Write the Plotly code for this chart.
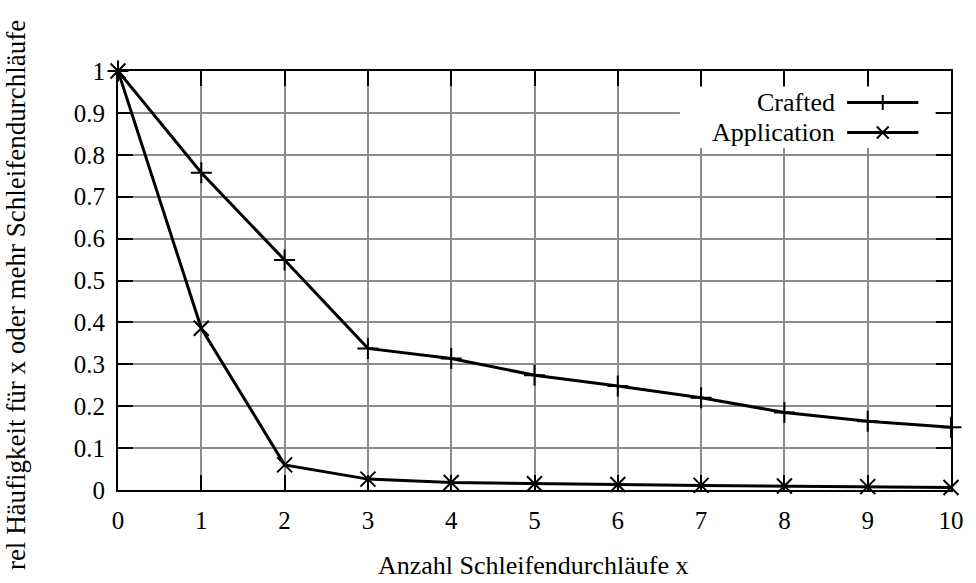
import plotly.graph_objects as go

# Loop-count distribution: share of runs with x or more loop iterations
x_vals = [0, 1, 2, 3, 4, 5, 6, 7, 8, 9, 10]
crafted = [1.0, 0.757, 0.549, 0.338, 0.314, 0.274, 0.248, 0.220, 0.185, 0.164, 0.150]
application = [1.0, 0.386, 0.060, 0.026, 0.018, 0.015, 0.013, 0.011, 0.0095, 0.008, 0.006]
series_names = ["Crafted", "Application"]
x_ticks = list(range(0, 11))
y_ticks = [0, 0.1, 0.2, 0.3, 0.4, 0.5, 0.6, 0.7, 0.8, 0.9, 1]
y_tick_text = ["0", "0.1", "0.2", "0.3", "0.4", "0.5", "0.6", "0.7", "0.8", "0.9", "1"]

FONT = "Liberation Serif"
W, H = 976, 583
L, R, T, B = 118, 16, 71, 93
pw, ph = W - L - R, H - T - B

def px_x(p):
    return (p - L) / pw

def px_y(p):
    return (H - B - p) / ph

fig = go.Figure()

fig.add_trace(go.Scatter(
    x=x_vals, y=crafted, mode="lines+markers", name=series_names[0],
    line=dict(color="black", width=3),
    marker=dict(symbol="cross-thin", size=15, line=dict(color="black", width=2)),
    showlegend=False, cliponaxis=False,
))
fig.add_trace(go.Scatter(
    x=x_vals, y=application, mode="lines+markers", name=series_names[1],
    line=dict(color="black", width=3),
    marker=dict(symbol="x-thin", size=15, line=dict(color="black", width=2)),
    showlegend=False, cliponaxis=False,
))

# Key box: white panel over the grid, label left, line sample with marker right
shapes = [dict(
    type="rect", xref="paper", yref="paper", layer="above",
    x0=px_x(686), x1=px_x(944), y0=px_y(148), y1=px_y(87),
    fillcolor="white", line=dict(width=0),
)]
key_rows_px = [102.5, 132.5]
sample_x0, sample_x1, sample_mid = 855, 927, 891
annotations = []
for i, (name, ypx) in enumerate(zip(series_names, key_rows_px)):
    shapes.append(dict(
        type="line", xref="paper", yref="paper", layer="above",
        x0=px_x(sample_x0), x1=px_x(sample_x1), y0=px_y(ypx), y1=px_y(ypx),
        line=dict(color="black", width=3),
    ))
    if i == 0:
        s = 7.5
        segs = [(-s, 0, s, 0), (0, -s, 0, s)]
    else:
        s = 6
        segs = [(-s, -s, s, s), (-s, s, s, -s)]
    for dx0, dy0, dx1, dy1 in segs:
        shapes.append(dict(
            type="line", xref="paper", yref="paper", layer="above",
            x0=px_x(sample_mid + dx0), x1=px_x(sample_mid + dx1),
            y0=px_y(ypx + dy0), y1=px_y(ypx + dy1),
            line=dict(color="black", width=2),
        ))
    annotations.append(dict(
        text=name, xref="paper", yref="paper",
        x=px_x(845), y=px_y(ypx),
        xanchor="right", yanchor="middle", showarrow=False,
        font=dict(family=FONT, size=26, color="black"),
    ))

annotations.append(dict(
    text="Anzahl Schleifendurchläufe x", xref="paper", yref="paper",
    x=px_x(537), y=px_y(565), xanchor="center", yanchor="middle",
    showarrow=False, font=dict(family=FONT, size=26, color="black"),
))
annotations.append(dict(
    text="rel Häufigkeit für x oder mehr Schleifendurchläufe", xref="paper", yref="paper",
    x=px_x(15), y=px_y(295), xanchor="center", yanchor="middle", textangle=-90,
    showarrow=False, font=dict(family=FONT, size=27, color="black"),
))

axis_common = dict(
    showline=True, linecolor="black", linewidth=2, mirror="ticks",
    ticks="inside", ticklen=15, tickwidth=1.5, tickcolor="black",
    showgrid=True, gridcolor="#8c8c8c", gridwidth=1.5, zeroline=False,
    tickfont=dict(family=FONT, size=25, color="black"),
)

fig.update_layout(
    width=W, height=H,
    margin=dict(l=L, r=R, t=T, b=B),
    paper_bgcolor="white", plot_bgcolor="white",
    xaxis=dict(range=[0, 10], tickvals=x_ticks, ticklabelstandoff=7, **axis_common),
    yaxis=dict(range=[0, 1], tickvals=y_ticks, ticktext=y_tick_text, ticklabelstandoff=6, **axis_common),
    shapes=shapes,
    annotations=annotations,
)

fig.write_html("out.html")
